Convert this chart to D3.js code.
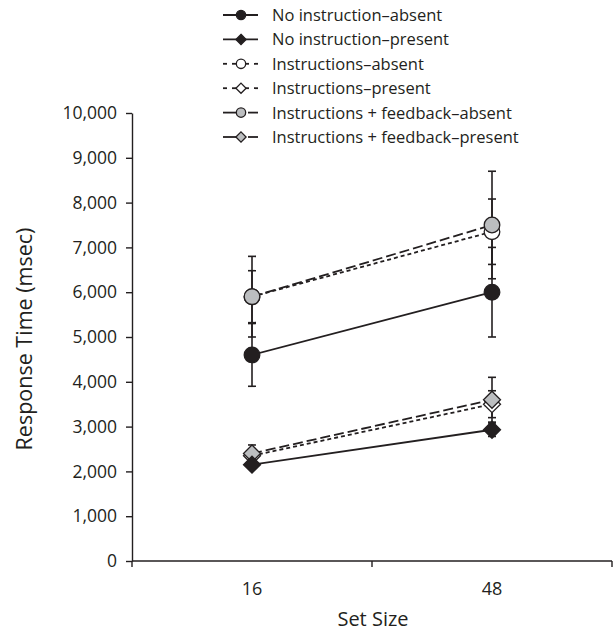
<!DOCTYPE html>
<html>
<head>
<meta charset="utf-8">
<script src="https://cdn.jsdelivr.net/npm/d3@7"></script>
<style>
  body { margin: 0; background: #fff; }
  svg text { font-family: "Open Sans", "Noto Sans", sans-serif; fill: #231f20; }
</style>
</head>
<body>
<svg id="chart" width="616" height="634"></svg>
<script>
// Set sizes on the x axis
const setSizes = ["16", "48"];
const yTicks = [0, 1000, 2000, 3000, 4000, 5000, 6000, 7000, 8000, 9000, 10000];

// Mean response times (msec) per condition
const noInstrAbsent = [4600, 6000];
const noInstrPresent = [2150, 2930];
const instrAbsent = [5900, 7350];
const instrPresent = [2350, 3500];
const feedbackAbsent = [5900, 7500];
const feedbackPresent = [2400, 3600];

// Error bar half-widths (msec)
const noInstrAbsentErr = [700, 1000];
const noInstrPresentErr = [80, 150];
const instrAbsentErr = [580, 730];
const instrPresentErr = [150, 300];
const feedbackAbsentErr = [900, 1200];
const feedbackPresentErr = [190, 500];

const seriesNames = [
  "No instruction\u2013absent",
  "No instruction\u2013present",
  "Instructions\u2013absent",
  "Instructions\u2013present",
  "Instructions + feedback\u2013absent",
  "Instructions + feedback\u2013present"
];

const series = [
  { name: seriesNames[0], values: noInstrAbsent, err: noInstrAbsentErr, shape: "circle", fill: "#231f20", dash: null },
  { name: seriesNames[1], values: noInstrPresent, err: noInstrPresentErr, shape: "diamond", fill: "#231f20", dash: null },
  { name: seriesNames[2], values: instrAbsent, err: instrAbsentErr, shape: "circle", fill: "#ffffff", dash: "4,3" },
  { name: seriesNames[3], values: instrPresent, err: instrPresentErr, shape: "diamond", fill: "#ffffff", dash: "4,3" },
  { name: seriesNames[4], values: feedbackAbsent, err: feedbackAbsentErr, shape: "circle", fill: "#bcbec0", dash: "10,4" },
  { name: seriesNames[5], values: feedbackPresent, err: feedbackPresentErr, shape: "diamond", fill: "#bcbec0", dash: "10,4" }
];

const svg = d3.select("#chart");
const ink = "#231f20";

const x = d3.scaleBand().domain(setSizes).range([132, 612]).padding(0);
const y = d3.scaleLinear().domain([0, 10000]).range([561, 113]);
const cx = d => x(d) + x.bandwidth() / 2;

// Y axis
const yAxis = svg.append("g")
  .attr("transform", "translate(132,0)")
  .call(d3.axisLeft(y).tickValues(yTicks).tickSize(6).tickSizeOuter(0)
    .tickFormat(d3.format(",")));
yAxis.select(".domain").attr("stroke", ink).attr("stroke-width", 1.4);
yAxis.selectAll(".tick line").attr("stroke", ink).attr("stroke-width", 1.4);
yAxis.selectAll(".tick text").attr("font-size", 17.5).attr("x", -15)
  .style("font-family", "'Open Sans', sans-serif").attr("fill", ink);

// X axis: ticks sit on band boundaries, labels at band centres
const xAxisG = svg.append("g").attr("transform", "translate(0,561)");
xAxisG.append("line").attr("x1", 132).attr("x2", 612).attr("stroke", ink).attr("stroke-width", 1.4);
const boundaries = setSizes.map(d => x(d)).concat([x(setSizes[setSizes.length - 1]) + x.bandwidth()]);
xAxisG.selectAll("line.tk").data(boundaries).enter().append("line")
  .attr("class", "tk").attr("x1", d => d).attr("x2", d => d).attr("y1", 0).attr("y2", 6)
  .attr("stroke", ink).attr("stroke-width", 1.4);
xAxisG.selectAll("text").data(setSizes).enter().append("text")
  .attr("x", d => cx(d)).attr("y", 34).attr("text-anchor", "middle")
  .attr("font-size", 18).text(d => d);

// Axis titles
svg.append("text").attr("x", 373).attr("y", 626).attr("text-anchor", "middle")
  .attr("font-size", 20).text("Set Size");
svg.append("text").attr("transform", "translate(32,339) rotate(-90)")
  .attr("text-anchor", "middle").attr("font-size", 21.5).text("Response Time (msec)");

const diamond = r => `M0,${-r}L${r},0L0,${r}L${-r},0Z`;

function drawMarker(g, s, px, py, scale) {
  const k = scale || 1;
  if (s.shape === "circle") {
    g.append("circle").attr("cx", px).attr("cy", py).attr("r", 7.8 * k)
      .attr("fill", s.fill).attr("stroke", ink).attr("stroke-width", 1.3);
  } else {
    g.append("path").attr("d", diamond(8.5 * k)).attr("transform", `translate(${px},${py})`)
      .attr("fill", s.fill).attr("stroke", ink).attr("stroke-width", 1.3);
  }
}

const plot = svg.append("g");

// Error bars
series.forEach(s => {
  setSizes.forEach((d, i) => {
    const px = cx(d);
    const lo = y(s.values[i] - s.err[i]);
    const hi = y(s.values[i] + s.err[i]);
    plot.append("line").attr("x1", px).attr("x2", px).attr("y1", lo).attr("y2", hi)
      .attr("stroke", ink).attr("stroke-width", 1.6);
    [lo, hi].forEach(cy => plot.append("line")
      .attr("x1", px - 4).attr("x2", px + 4).attr("y1", cy).attr("y2", cy)
      .attr("stroke", ink).attr("stroke-width", 1.6));
  });
});

// Connecting lines
const line = d3.line().x(d => cx(d.k)).y(d => y(d.v));
series.forEach(s => {
  plot.append("path")
    .datum(setSizes.map((k, i) => ({ k, v: s.values[i] })))
    .attr("d", line).attr("fill", "none").attr("stroke", ink).attr("stroke-width", 1.8)
    .attr("stroke-dasharray", s.dash);
});

// Markers (drawn so filled ones end on top)
const drawOrder = [2, 3, 4, 5, 0, 1];
drawOrder.forEach(j => {
  const s = series[j];
  setSizes.forEach((d, i) => drawMarker(plot, s, cx(d), y(s.values[i])));
});

// Legend
const legend = svg.append("g");
series.forEach((s, i) => {
  const ly = 15 + i * 24.4;
  const g = legend.append("g");
  if (s.dash === null) {
    g.append("line").attr("x1", 223).attr("x2", 258).attr("y1", ly).attr("y2", ly)
      .attr("stroke", ink).attr("stroke-width", 1.8);
  } else if (s.dash === "4,3") {
    [[223, 227], [254, 258], [232, 236], [245, 249]].forEach(([a, b]) =>
      g.append("line").attr("x1", a).attr("x2", b).attr("y1", ly).attr("y2", ly)
        .attr("stroke", ink).attr("stroke-width", 1.8));
  } else {
    [[223, 236], [248, 258]].forEach(([a, b]) =>
      g.append("line").attr("x1", a).attr("x2", b).attr("y1", ly).attr("y2", ly)
        .attr("stroke", ink).attr("stroke-width", 1.8));
  }
  drawMarker(g, s, 241, ly, 0.6);
  g.append("text").attr("x", 272).attr("y", ly + 6).attr("font-size", 16.5).text(s.name);
});
</script>
</body>
</html>
